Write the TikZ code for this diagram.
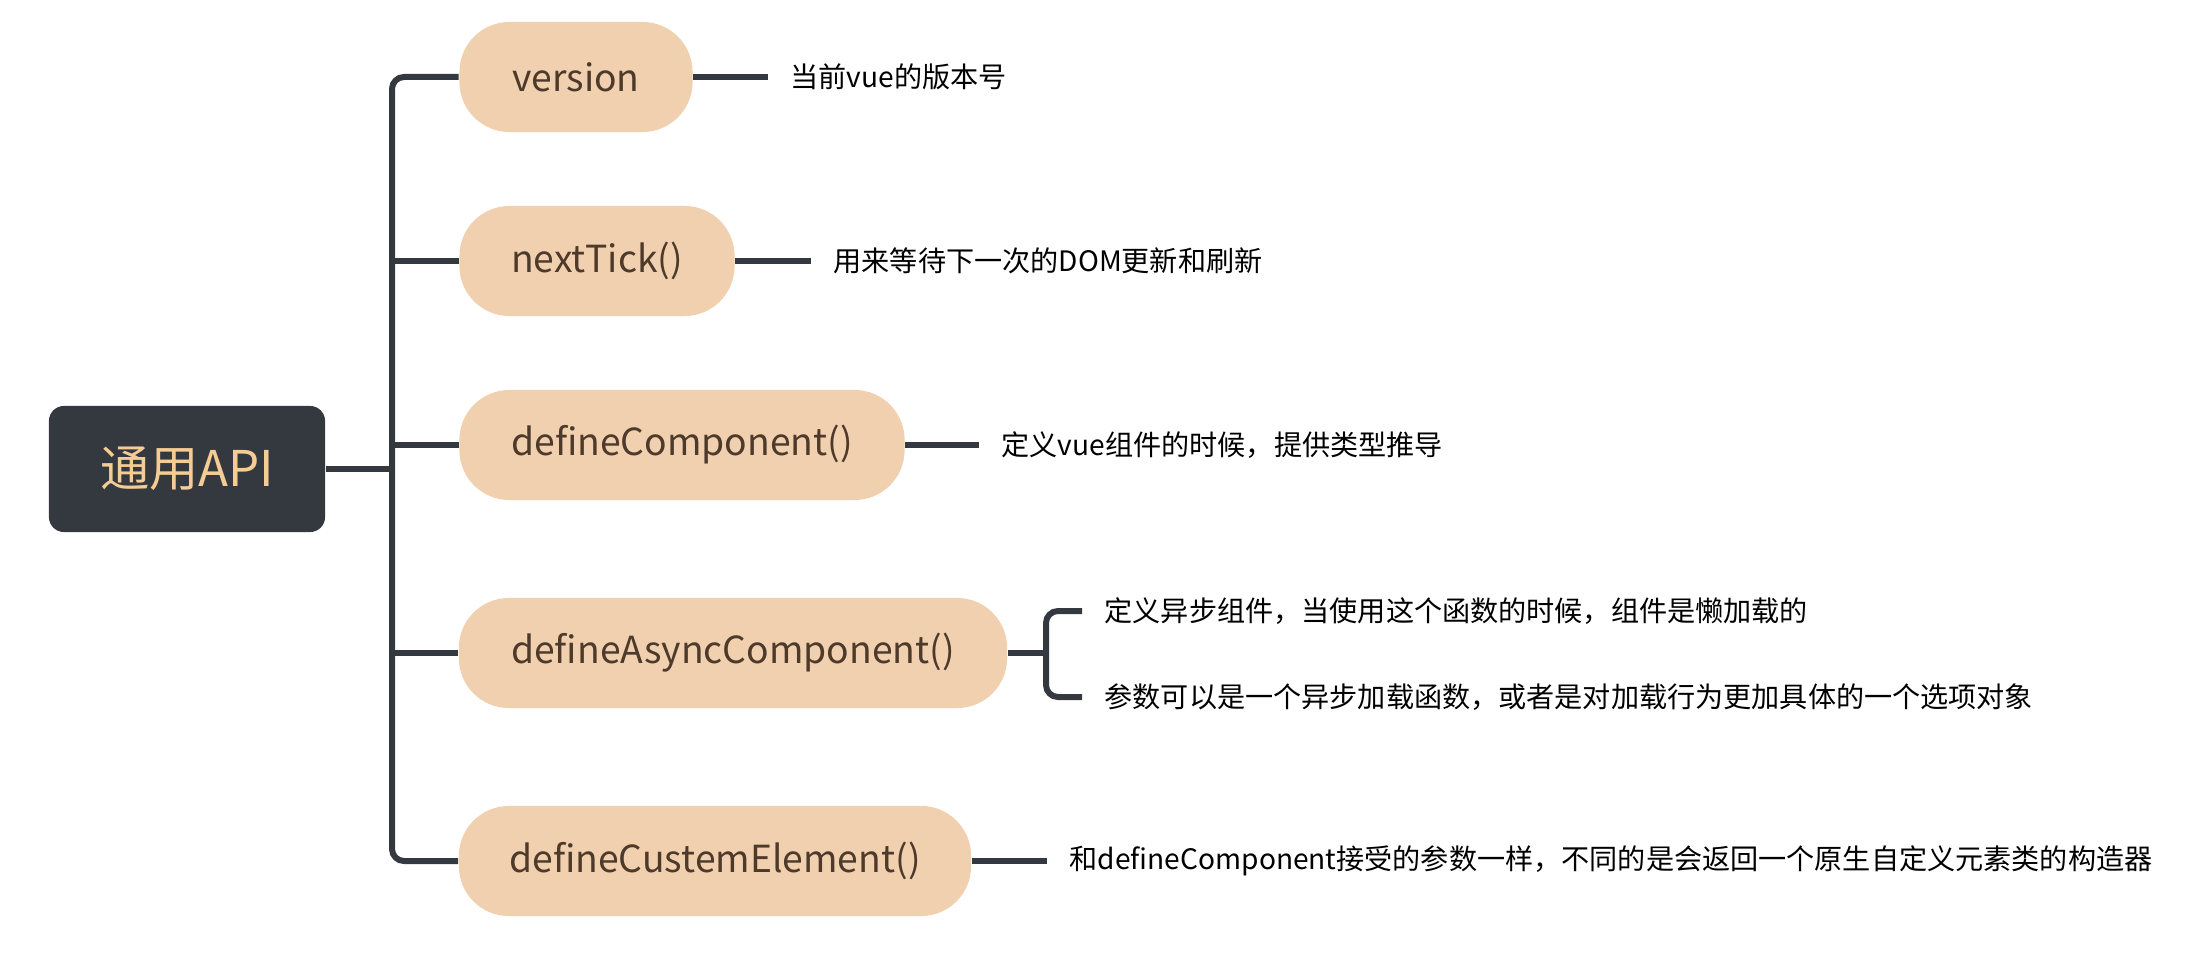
\documentclass[tikz,border=0pt]{standalone}
\usepackage{fontspec}
\setmainfont{Noto Sans CJK SC}
\definecolor{dark}{HTML}{343940}
\definecolor{peach}{HTML}{F0D0AE}
\definecolor{rootText}{HTML}{F5CC94}
\definecolor{brown}{HTML}{4E3A2B}
\tikzset{
  rootbox/.style={fill=dark, rounded corners=0.15cm, minimum width=2.76cm, minimum height=1.26cm,
    text=rootText, font=\fontsize{14pt}{16pt}\selectfont, inner sep=0pt},
  pill/.style={fill=peach, rounded corners=0.5cm, minimum height=1.10cm, inner sep=0pt,
    text=brown, font=\fontsize{10.6pt}{13pt}\selectfont},
  desc/.style={anchor=west, inner xsep=0.22cm, inner ysep=0pt, text=black,
    font=\fontsize{8pt}{10pt}\selectfont},
  conn/.style={draw=dark, line width=0.06cm},
}
\begin{document}
\begin{tikzpicture}[x=0.01cm, y=-0.01cm]
\useasboundingbox (0,0) rectangle (2197,973);
% root
\node[rootbox] (root) at (187,469) {通用API};
% branches
\node[pill, minimum width=2.33cm] (version) at (576,77) {version};
\node[pill, minimum width=2.75cm] (next) at (597,261) {nextTick()};
\node[pill, minimum width=4.45cm] (defc) at (682,445) {defineComponent()};
\node[pill, minimum width=5.48cm] (async) at (733,653) {defineAsyncComponent()};
\node[pill, minimum width=5.12cm] (custem) at (715,861) {defineCustemElement()};
% trunk coordinates
\coordinate (tb) at (392,861);
\coordinate (bk) at (1046,653);
% descriptions
\node[desc] (d1) at (768,77) {当前vue的版本号};
\node[desc] (d2) at (811,261) {用来等待下一次的DOM更新和刷新};
\node[desc] (d3) at (979,445) {定义vue组件的时候，提供类型推导};
\node[desc] (d4a) at (1082,611) {定义异步组件，当使用这个函数的时候，组件是懒加载的};
\node[desc] (d4b) at (1082,697) {参数可以是一个异步加载函数，或者是对加载行为更加具体的一个选项对象};
\node[desc] (d5) at (1047,861) {和defineComponent接受的参数一样，不同的是会返回一个原生自定义元素类的构造器};
% connectors
\draw[conn, rounded corners=0.12cm] (version.west) -| (tb) -- (custem.west);
\draw[conn] (root.east) -- (root.east -| tb);
\draw[conn] (next.west) -- (next.west -| tb);
\draw[conn] (defc.west) -- (defc.west -| tb);
\draw[conn] (async.west) -- (async.west -| tb);
\draw[conn] (version.east) -- (d1.west);
\draw[conn] (next.east) -- (d2.west);
\draw[conn] (defc.east) -- (d3.west);
\draw[conn] (async.east) -- (bk);
\draw[conn, rounded corners=0.12cm] (d4a.west) -| (bk) |- (d4b.west);
\draw[conn] (custem.east) -- (d5.west);
\end{tikzpicture}
\end{document}
